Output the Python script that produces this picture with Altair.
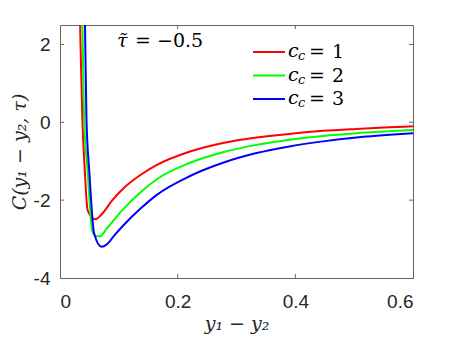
import altair as alt
import pandas as pd

# ---------------- data ----------------
series = ["1", "2", "3"]
colors = ["#ff0000", "#00ff00", "#0000ff"]

x_cc1 = [0.029, 0.034, 0.038, 0.042, 0.047, 0.060, 0.071, 0.088, 0.1075, 0.136, 0.164,
         0.221, 0.277, 0.334, 0.390, 0.447, 0.504, 0.560, 0.600]
y_cc1 = [6.0, 2.6, 0.08, -1.2, -2.26, -2.49, -2.36, -2.02, -1.70, -1.36, -1.10,
         -0.75, -0.53, -0.39, -0.30, -0.22, -0.17, -0.13, -0.10]

x_cc2 = [0.033, 0.038, 0.041, 0.0467, 0.055, 0.060, 0.068, 0.079, 0.092, 0.1075, 0.136,
         0.164, 0.221, 0.277, 0.334, 0.390, 0.447, 0.504, 0.560, 0.600]
y_cc2 = [6.0, 2.6, 0.08, -1.2, -2.80, -2.92, -2.93, -2.74, -2.50, -2.23, -1.81,
         -1.47, -1.04, -0.77, -0.58, -0.45, -0.35, -0.28, -0.23, -0.195]

x_cc3 = [0.037, 0.0424, 0.045, 0.050, 0.058, 0.0708, 0.0793, 0.092, 0.1075, 0.136,
         0.164, 0.221, 0.277, 0.334, 0.390, 0.447, 0.504, 0.560, 0.600]
y_cc3 = [6.0, 2.6, 0.08, -1.3, -2.85, -3.20, -3.14, -2.91, -2.65, -2.23,
         -1.87, -1.38, -1.04, -0.79, -0.62, -0.49, -0.39, -0.32, -0.28]

x_ticks = [0, 0.2, 0.4, 0.6]
y_ticks = [-4, -2, 0, 2]
x_domain = [0, 0.6]
y_domain = [-4, 2.5]

xs = [x_cc1, x_cc2, x_cc3]
ys = [y_cc1, y_cc2, y_cc3]
rows = []
for s, xl, yl in zip(series, xs, ys):
    for i, (a, b) in enumerate(zip(xl, yl)):
        rows.append({"cc": s, "x": a, "y": b, "order": i})
df = pd.DataFrame(rows)

W, H = 353, 253
SERIF = "DejaVu Serif"
SANS = "Liberation Sans"
AXIS_GRAY = "#666666"
LABEL = "#262626"

xscale = alt.Scale(domain=x_domain, nice=False, zero=False)
yscale = alt.Scale(domain=y_domain, nice=False, zero=False)
cscale = alt.Scale(domain=series, range=colors)

lines = alt.Chart(df).mark_line(strokeWidth=2, clip=True, interpolate="monotone").encode(
    x=alt.X("x:Q", scale=xscale,
            axis=alt.Axis(values=x_ticks, format="~g", title="y₁ − y₂",
                          titleFont=SERIF, titleFontStyle="italic", titleFontWeight="normal",
                          titleFontSize=19, titleColor=LABEL,
                          titleX=W / 2, titleY=45, titleBaseline="middle",
                          labelFont=SANS, labelFontSize=19, labelColor=LABEL,
                          labelPadding=14, tickSize=0, grid=False,
                          domainColor=AXIS_GRAY)),
    y=alt.Y("y:Q", scale=yscale,
            axis=alt.Axis(values=y_ticks, title="C(y₁ − y₂, τ)",
                          labelExpr="replace(datum.label, '\u2212', '-')",
                          titleFont=SERIF, titleFontStyle="italic", titleFontWeight="normal",
                          titleFontSize=19, titleColor=LABEL,
                          titleX=-41, titleY=H / 2, titleAlign="center",
                          titleBaseline="middle", titleAngle=270,
                          labelFont=SANS, labelFontSize=19, labelColor=LABEL,
                          labelPadding=10, tickSize=0, grid=False,
                          domainColor=AXIS_GRAY)),
    color=alt.Color("cc:N", scale=cscale, legend=None),
    order="order:Q",
)

# inward ticks (MATLAB style)
xt = pd.DataFrame({"t": x_ticks[1:-1]})
yt = pd.DataFrame({"t": y_ticks[1:]})
tick_style = dict(color=AXIS_GRAY, strokeWidth=1)
xt_bot = alt.Chart(xt).mark_rule(**tick_style).encode(
    x=alt.X("t:Q", scale=xscale), y=alt.value(H), y2=alt.value(H - 4))
xt_top = alt.Chart(xt).mark_rule(**tick_style).encode(
    x=alt.X("t:Q", scale=xscale), y=alt.value(0), y2=alt.value(4))
yt_left = alt.Chart(yt).mark_rule(**tick_style).encode(
    y=alt.Y("t:Q", scale=yscale), x=alt.value(0), x2=alt.value(4))
yt_right = alt.Chart(yt).mark_rule(**tick_style).encode(
    y=alt.Y("t:Q", scale=yscale), x=alt.value(W - 4), x2=alt.value(W))


def txt(t, x, y, size=19, italic=False):
    kw = dict(font=SERIF, fontSize=size, align="left", baseline="middle", color="black")
    if italic:
        kw["fontStyle"] = "italic"
    return alt.Chart(pd.DataFrame({"t": [t]})).mark_text(**kw).encode(
        text="t:N", x=alt.value(x), y=alt.value(y))


# annotation  tau~ = -0.5
annot = [txt("τ\u0303", 57, 16, 19, True), txt("= −0.5", 75, 16, 19)]

# custom legend
leg_layers = []
row_y = [27, 50.5, 74]
for s, c, ry in zip(series, colors, row_y):
    leg_layers.append(alt.Chart(pd.DataFrame({"cc": [s]})).mark_rule(
        color=c, strokeWidth=2).encode(x=alt.value(193), x2=alt.value(225), y=alt.value(ry)))
    leg_layers.append(txt("c", 228, ry - 1, 19, True))
    leg_layers.append(txt("c", 238, ry + 4, 13, True))
    leg_layers.append(txt("=", 249, ry, 19))
    leg_layers.append(txt(s, 272, ry, 19))

chart = alt.layer(lines, xt_bot, xt_top, yt_left, yt_right, *annot, *leg_layers).properties(
    width=W, height=H,
    autosize=alt.AutoSizeParams(type="none"),
    padding={"left": 52, "top": 17, "right": 36, "bottom": 57},
    background="white",
).configure_view(stroke=AXIS_GRAY, strokeWidth=1)

chart.save("out.html", embed_options={"renderer": "svg", "actions": False})
